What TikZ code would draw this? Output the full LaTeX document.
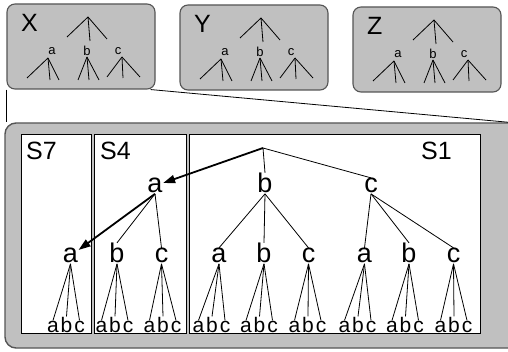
\documentclass[tikz,border=0pt]{standalone}
\usepackage{fontspec}
\setmainfont{Liberation Sans}
\usetikzlibrary{arrows.meta}
\definecolor{panel}{RGB}{192,192,192}
\definecolor{rim}{RGB}{85,85,85}

\begin{document}
\begin{tikzpicture}[x=1pt,y=-1pt,
  minibox/.style={draw=rim, fill=panel, line width=1.1pt, rounded corners=8pt,
    inner sep=0pt, minimum width=148pt, minimum height=85pt},
  bigbox/.style={draw=rim, fill=panel, line width=1.4pt, rounded corners=11pt,
    inner sep=0pt},
  pane/.style={draw=black, fill=white, line width=0.9pt, inner sep=0pt,
    minimum height=199pt},
  boxlabel/.style={inner sep=0pt, font=\fontsize{25}{25}\selectfont},
  minilabel/.style={inner sep=0pt, font=\fontsize{13}{13}\selectfont},
  big/.style={inner sep=0.6pt, outer sep=0pt, font=\fontsize{27}{27}\selectfont, anchor=base},
  leaf/.style={inner sep=0.3pt, outer sep=0pt, font=\fontsize{21}{21}\selectfont, anchor=base},
  edge/.style={line width=0.8pt, black},
  jump/.style={line width=1.8pt, black, -{Triangle[length=12pt,width=8pt]}},
  zoomline/.style={line width=0.8pt, black}
]
\clip (0,0) rectangle (508,352);
\fill[white] (0,0) rectangle (508,352);

% the three small trees X, Y, Z
\foreach \L/\dx/\dy in {X/0/0,Y/173/1,Z/346/3}{
  \begin{scope}[shift={(\dx,\dy)}]
    \node[minibox] (\L-box) at (81,46.5) {};
    \node[boxlabel, anchor=base west] (\L-name) at (21,32) {\L};
    \coordinate (\L-r) at (88,17);
    \coordinate (\L-r1) at (67,37);
    \coordinate (\L-r2) at (90,41);
    \coordinate (\L-r3) at (107,39);
    \node[minilabel] (\L-a) at (52,51) {a};
    \node[minilabel] (\L-b) at (87,50.5) {b};
    \node[minilabel] (\L-c) at (118,51) {c};
    \coordinate (\L-ta) at (48,58);
    \coordinate (\L-tb) at (87,57);
    \coordinate (\L-tc) at (122,57);
    \coordinate (\L-ta1) at (27,78);
    \coordinate (\L-ta2) at (50,80);
    \coordinate (\L-ta3) at (59,80);
    \coordinate (\L-tb1) at (78,80);
    \coordinate (\L-tb2) at (89,80);
    \coordinate (\L-tb3) at (99,80);
    \coordinate (\L-tc1) at (107,77);
    \coordinate (\L-tc2) at (123,78);
    \coordinate (\L-tc3) at (140,77);
    \foreach \e in {r1,r2,r3}{\draw[edge] (\L-r) -- (\L-\e);}
    \foreach \t in {ta,tb,tc}{
      \foreach \k in {1,2,3}{\draw[edge] (\L-\t) -- (\L-\t\k);}
    }
  \end{scope}
}

% enlarged view of X (its right side runs past the edge)
\node[bigbox, minimum width=515pt, minimum height=225pt] (big) at (262.5,235.5) {};
\draw[zoomline] (X-box.south west) -- (X-box.south west |- big.north);
\draw[zoomline] ([xshift=-5pt]X-box.south east) -- ([xshift=-12pt]big.north east);

\node[pane, minimum width=70pt] (S7) at (56,233.5) {};
\node[pane, minimum width=92pt] (S4) at (140,233.5) {};
\node[pane, minimum width=291pt] (S1) at (334.5,233.5) {};

\node[boxlabel, anchor=base west] (S7-name) at (26,160) {S7};
\node[boxlabel, anchor=base west] (S4-name) at (100,160) {S4};
\node[boxlabel, anchor=base west] (S1-name) at (421,160) {S1};

% root and first level
\coordinate (r) at (263,148);
\node[big] (a1) at (155,193) {a};
\node[big] (b1) at (265,193) {b};
\node[big] (c1) at (371,193) {c};
\draw[jump] (r) -- (a1);
\draw[edge] (r) -- (b1.north);
\draw[edge] (r) -- (c1.north);

% second level
\node[big] (p1) at (70.5,263) {a};
\node[big] (p2) at (117,263) {b};
\node[big] (p3) at (161.5,263) {c};
\node[big] (p4) at (219,263) {a};
\node[big] (p5) at (264,263) {b};
\node[big] (p6) at (308.5,263) {c};
\node[big] (p7) at (364.5,263) {a};
\node[big] (p8) at (409,263) {b};
\node[big] (p9) at (453.5,263) {c};

\draw[jump] (a1.south) -- (p1);
\draw[edge] (a1.south) -- (p2.north);
\draw[edge] (a1.south) -- (p3.north);
\foreach \p in {p4,p5,p6}{\draw[edge] (b1.south) -- (\p.north);}
\foreach \p in {p7,p8,p9}{\draw[edge] (c1.south) -- (\p.north);}

% leaves
\foreach \p/\gx in {p1/66,p2/114.5,p3/162.5,p4/211.5,p5/259,p6/307.5,p7/357.5,p8/405,p9/453.5}{
  \node[leaf] (\p-a) at (\gx-13,332) {a};
  \node[leaf] (\p-b) at (\gx+0.5,332) {b};
  \node[leaf] (\p-c) at (\gx+13.5,332) {c};
  \foreach \q in {a,b,c}{\draw[edge] (\p.south) -- (\p-\q.north);}
}
\end{tikzpicture}
\end{document}
